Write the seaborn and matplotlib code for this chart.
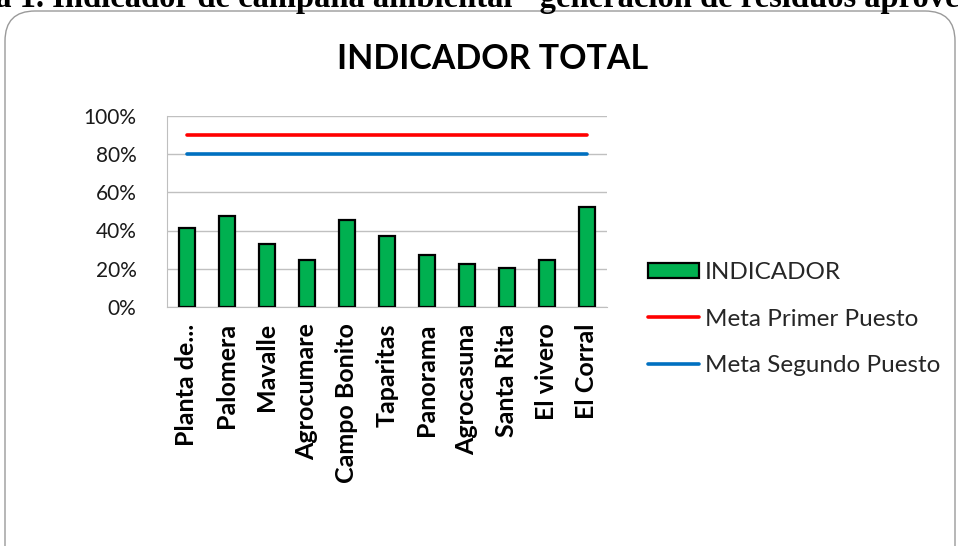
import numpy as np
import pandas as pd
import matplotlib
matplotlib.use("Agg")
import matplotlib.pyplot as plt
from matplotlib.patches import FancyBboxPatch, Patch
from matplotlib.lines import Line2D
import seaborn as sns

# data
categorias = ["Planta de...", "Palomera", "Mavalle", "Agrocumare", "Campo Bonito",
              "Taparitas", "Panorama", "Agrocasuna", "Santa Rita", "El vivero", "El Corral"]
indicador = [0.415, 0.478, 0.327, 0.244, 0.457, 0.371, 0.270, 0.222, 0.203, 0.244, 0.523]
meta_primer = 0.90
meta_segundo = 0.80
yticks = [0, 0.2, 0.4, 0.6, 0.8, 1.0]

verde = "#00B050"
rojo = "#FF0000"
azul = "#0070C0"

sns.set_style("white")
plt.rcParams["font.family"] = ["Lato", "DejaVu Sans"]

df = pd.DataFrame({"categoria": categorias, "valor": indicador})

fig = plt.figure(figsize=(9.58, 5.46), dpi=100)
ax = fig.add_axes([167 / 958, 1 - 306.7 / 546, (607 - 167) / 958, (306.7 - 116.2) / 546])

sns.barplot(data=df, x="categoria", y="valor", color=verde, saturation=1,
            width=0.42, edgecolor="black", linewidth=1.6, ax=ax, zorder=3)

pos = np.arange(len(categorias))
sns.lineplot(x=pos, y=[meta_primer] * len(categorias), color=rojo, linewidth=2.6,
             ax=ax, zorder=4)
sns.lineplot(x=pos, y=[meta_segundo] * len(categorias), color=azul, linewidth=2.6,
             ax=ax, zorder=4)

ax.set_xlim(-0.5, len(categorias) - 0.5)
ax.set_ylim(0, 1.0)
ax.set_yticks(yticks)
ax.set_yticklabels([f"{int(round(v * 100))}%" for v in yticks], fontsize=15, color="#1a1a1a")
ax.set_xticks(pos)
ax.set_xticklabels(categorias, rotation=90, fontsize=18, fontweight="bold", color="black")
ax.tick_params(axis="y", length=0, pad=22)
ax.tick_params(axis="x", length=0, pad=12)
ax.set_xlabel("")
ax.set_ylabel("")
ax.yaxis.grid(True, color="#c0c0c0", linewidth=1)
ax.set_axisbelow(True)
for s in ["top", "right"]:
    ax.spines[s].set_visible(False)
ax.spines["left"].set_color("#bfbfbf")
ax.spines["bottom"].set_color("#bfbfbf")

fig.text(492.5 / 958, 1 - 59 / 546, "INDICADOR TOTAL", ha="center", va="center",
         fontsize=24.5, fontweight="bold", color="black")

handles = [Patch(facecolor=verde, edgecolor="black", linewidth=1.6),
           Line2D([], [], color=rojo, linewidth=2.6),
           Line2D([], [], color=azul, linewidth=2.6)]
labels = ["INDICADOR", "Meta Primer Puesto", "Meta Segundo Puesto"]
fig.legend(handles, labels, loc="center left", bbox_to_anchor=(648 / 958, 1 - 319 / 546),
           frameon=False, fontsize=17.5, handlelength=2.1, handleheight=0.6,
           handletextpad=0.25, labelspacing=1.05, borderaxespad=0, borderpad=0)

# caption cut off at the top of the image
fig.text(-67 / 958, 1 - 7 / 546,
         "Tabla 1. Indicador de campaña ambiental - generación de residuos aprovechables",
         ha="left", va="baseline", fontsize=23.5, fontweight="bold",
         family=["Liberation Serif", "DejaVu Serif"], color="black")

# rounded chart border
marco = FancyBboxPatch((0.05, -0.5), 9.5, 5.85, boxstyle="round,pad=0,rounding_size=0.3",
                       transform=fig.dpi_scale_trans, facecolor="none",
                       edgecolor="#9a9a9a", linewidth=1.0)
fig.patches.append(marco)

fig.savefig("out.png", dpi=100)
